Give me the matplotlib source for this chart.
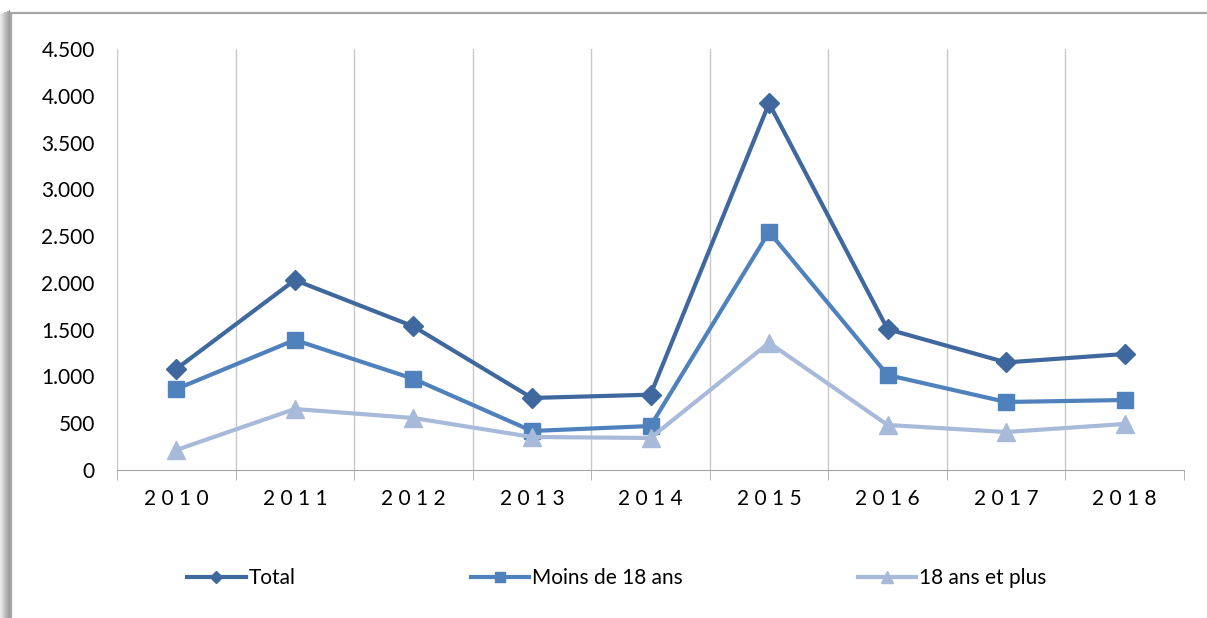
import numpy as np
import matplotlib.pyplot as plt
from matplotlib.patches import Rectangle
from matplotlib.lines import Line2D

plt.rcParams['font.family'] = ['Lato', 'DejaVu Sans']

annees = ["2010", "2011", "2012", "2013", "2014", "2015", "2016", "2017", "2018"]
total = [1080, 2030, 1535, 770, 805, 3920, 1505, 1150, 1240]
moins_18 = [865, 1390, 975, 417, 470, 2545, 1015, 727, 748]
plus_18 = [214, 652, 556, 353, 342, 1360, 481, 406, 492]

c_total = "#3F689E"
c_moins = "#4F81BD"
c_plus = "#A8BAD9"

fig = plt.figure(figsize=(12.07, 6.18), dpi=100)

# cadre avec ombre a gauche
for i in range(10):
    g = 0.92 - 0.035 * i
    fig.patches.append(Rectangle((i / 1207, 0), 1 / 1207, 1 - (14 - i * 0.4) / 618,
                                 transform=fig.transFigure, color=(g, g, g), lw=0))
fig.add_artist(Line2D([10.5 / 1207, 1], [1 - 12.5 / 618] * 2, transform=fig.transFigure,
                      color="#A6A6A6", lw=1.6))
fig.add_artist(Line2D([10.5 / 1207] * 2, [0, 1 - 12.5 / 618], transform=fig.transFigure,
                      color="#A6A6A6", lw=1.6))

ax = fig.add_axes([117 / 1207, 148 / 618, 1067 / 1207, 421 / 618])
x = np.arange(len(annees))

ax.plot(x, total, color=c_total, lw=3, marker="D", ms=10, label="Total")
ax.plot(x, moins_18, color=c_moins, lw=3, marker="s", ms=12, label="Moins de 18 ans")
ax.plot(x, plus_18, color=c_plus, lw=3, marker="^", ms=13, label="18 ans et plus")

ax.set_xlim(-0.5, len(annees) - 0.5)
ax.set_ylim(0, 4500)
ax.set_yticks(np.arange(0, 4501, 500))
ax.set_yticklabels([f"{v:,}".replace(",", ".") for v in range(0, 4501, 500)], fontsize=15)

ax.set_xticks(x)
ax.set_xticklabels([" ".join(a) for a in annees], fontsize=15)
ax.set_xticks(np.arange(-0.5, len(annees)), minor=True)
ax.tick_params(axis="x", which="major", length=0, pad=14)
ax.tick_params(axis="x", which="minor", length=7, color="#A6A6A6")
ax.tick_params(axis="y", length=0, pad=16)

for b in np.arange(-0.5, len(annees) - 1):
    ax.axvline(b, color="#C8C8C8", lw=1, zorder=0)

for s in ["top", "right", "left"]:
    ax.spines[s].set_visible(False)
ax.spines["bottom"].set_color("#A6A6A6")

fig.legend(loc="center", bbox_to_anchor=(617 / 1207, 1 - 578 / 618), ncol=3,
           frameon=False, fontsize=15, handlelength=2.8, handletextpad=0.15,
           columnspacing=8.4, markerscale=0.65)

fig.savefig("out.png", dpi=100)
